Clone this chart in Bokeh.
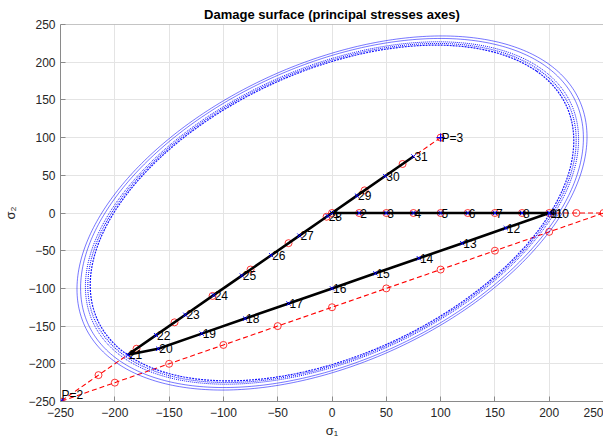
import numpy as np
from bokeh.plotting import figure
from bokeh.models import Range1d, FixedTicker, Span, ColumnDataSource
from bokeh.core.properties import value
from bokeh.embed import file_html
from bokeh.resources import INLINE

# ---- data ----
# imposed (trial) stresses along the load path P=1 -> P=2 -> P=3 (red dashed, circles)
trial_s1 = [0, 25, 50, 75, 100, 125, 150, 175, 200, 225, 250,
            200, 150, 100, 50, 0, -50, -100, -150, -200, -250,
            -215, -180, -145, -110, -75, -40, -5, 30, 65, 100]
trial_s2 = [0, 0, 0, 0, 0, 0, 0, 0, 0, 0, 0,
            -25, -50, -75, -100, -125, -150, -175, -200, -225, -250,
            -215, -180, -145, -110, -75, -40, -5, 30, 65, 100]

# actual stresses (black path, numbered blue markers)
stress_s1 = [0, 25, 50, 75, 100, 125, 150, 175, 200, 205, 200,
             160, 120, 80, 40, 0, -40, -80, -120, -160, -188,
             -162, -135, -109, -83, -56, -30, -4, 23, 49, 75]
stress_s2 = [0, 0, 0, 0, 0, 0, 0, 0, 0, 0, 0,
             -20, -40, -60, -80, -100, -120, -140, -160, -180, -188,
             -162, -135, -109, -83, -56, -30, -4, 23, 49, 75]
step_labels = [str(i) for i in range(1, 32)]

# load points
load_s1 = [-250, 100]
load_s2 = [-250, 100]
load_labels = ["P=2", "P=3"]

# damage surfaces: radius on the sigma axes, coupling coefficient
surface_radius = [212, 209, 205, 203, 201]
coupling = 0.43

ticks = [-250, -200, -150, -100, -50, 0, 50, 100, 150, 200, 250]

# styles
surface_dash = ["solid", "solid", "1 1", "1 1", "2 1"]
surface_width = [0.6, 0.6, 1.0, 1.1, 1.2]
load_marker = ["asterisk", "cross"]
load_baseline = ["bottom", "middle"]
FONT = "Liberation Sans"

p = figure(width=603, height=444,
           x_range=Range1d(-250, 250), y_range=Range1d(-250, 250),
           output_backend="svg", toolbar_location=None,
           min_border_left=59, min_border_right=0,
           min_border_top=24, min_border_bottom=43,
           title="Damage surface (principal stresses axes)")

p.title.align = "center"
p.title.text_font = FONT
p.title.text_font_size = "13px"
p.title.text_font_style = "bold"
p.title.text_color = "#000000"
p.title.standoff = 5

p.outline_line_color = None
p.background_fill_color = "white"
p.border_fill_color = "white"

for ax in (p.xaxis[0], p.yaxis[0]):
    ax.ticker = FixedTicker(ticks=ticks)
    ax.major_tick_in = 5
    ax.major_tick_out = 0
    ax.minor_tick_line_color = None
    ax.axis_line_color = "#8a8a8a"
    ax.major_tick_line_color = "#8a8a8a"
    ax.major_label_text_font = FONT
    ax.major_label_text_font_size = "12px"
    ax.major_label_text_color = "#262626"
    ax.axis_label_text_font = FONT
    ax.axis_label_text_font_size = "13px"
    ax.axis_label_text_font_style = "normal"
    ax.axis_label_text_color = "#262626"

p.xaxis.axis_label = "σ₁"
p.yaxis.axis_label = "σ₂"
p.xaxis.major_label_standoff = 6
p.xaxis.axis_label_standoff = 3
p.yaxis.major_label_standoff = 5
p.yaxis.axis_label_standoff = 7

p.grid.ticker = FixedTicker(ticks=ticks)
p.grid.grid_line_color = "#e4e4e4"
p.grid.grid_line_width = 1

# top box line
p.add_layout(Span(location=250, dimension="width", line_color="#8a8a8a", line_width=1))

# trial path (red)
p.line(trial_s1, trial_s2, line_color="#ff0000", line_dash="5 3", line_width=1.1)
p.scatter(trial_s1, trial_s2, marker="circle", size=7, fill_color=None,
          line_color="#ff0000", line_width=0.8)

# actual stress path (black)
p.line(stress_s1, stress_s2, line_color="#000000", line_width=2.6)

# damage surfaces (blue)
theta = np.linspace(0, 2 * np.pi, 361)
for r, d, w in zip(surface_radius, surface_dash, surface_width):
    u = r / np.sqrt(1 - coupling) * np.cos(theta)
    v = r / np.sqrt(1 + coupling) * np.sin(theta)
    p.line((u + v) / np.sqrt(2), (u - v) / np.sqrt(2), line_color="#0000ff",
           line_width=w, line_dash=d, line_alpha=0.9)

# stress markers
p.scatter(stress_s1, stress_s2, marker="x", size=6, line_color="#0000ff", line_width=1)
load_src = ColumnDataSource(dict(x=load_s1, y=load_s2, t=load_labels,
                                 m=load_marker, b=load_baseline))
p.scatter(x="x", y="y", marker="m", source=load_src, size=8,
          line_color="#0000ff", line_width=1.3)

src = ColumnDataSource(dict(x=stress_s1, y=stress_s2, t=step_labels))
p.text(x="x", y="y", text="t", source=src, text_align="left", text_baseline="middle",
       x_offset=1, text_font=value(FONT), text_font_size="12px", text_color="#000000")
p.text(x="x", y="y", text="t", source=load_src, text_align="left", text_baseline="b",
       x_offset=1, text_font=value(FONT), text_font_size="12px", text_color="#000000")

open("out.html", "w").write(file_html(p, INLINE))
